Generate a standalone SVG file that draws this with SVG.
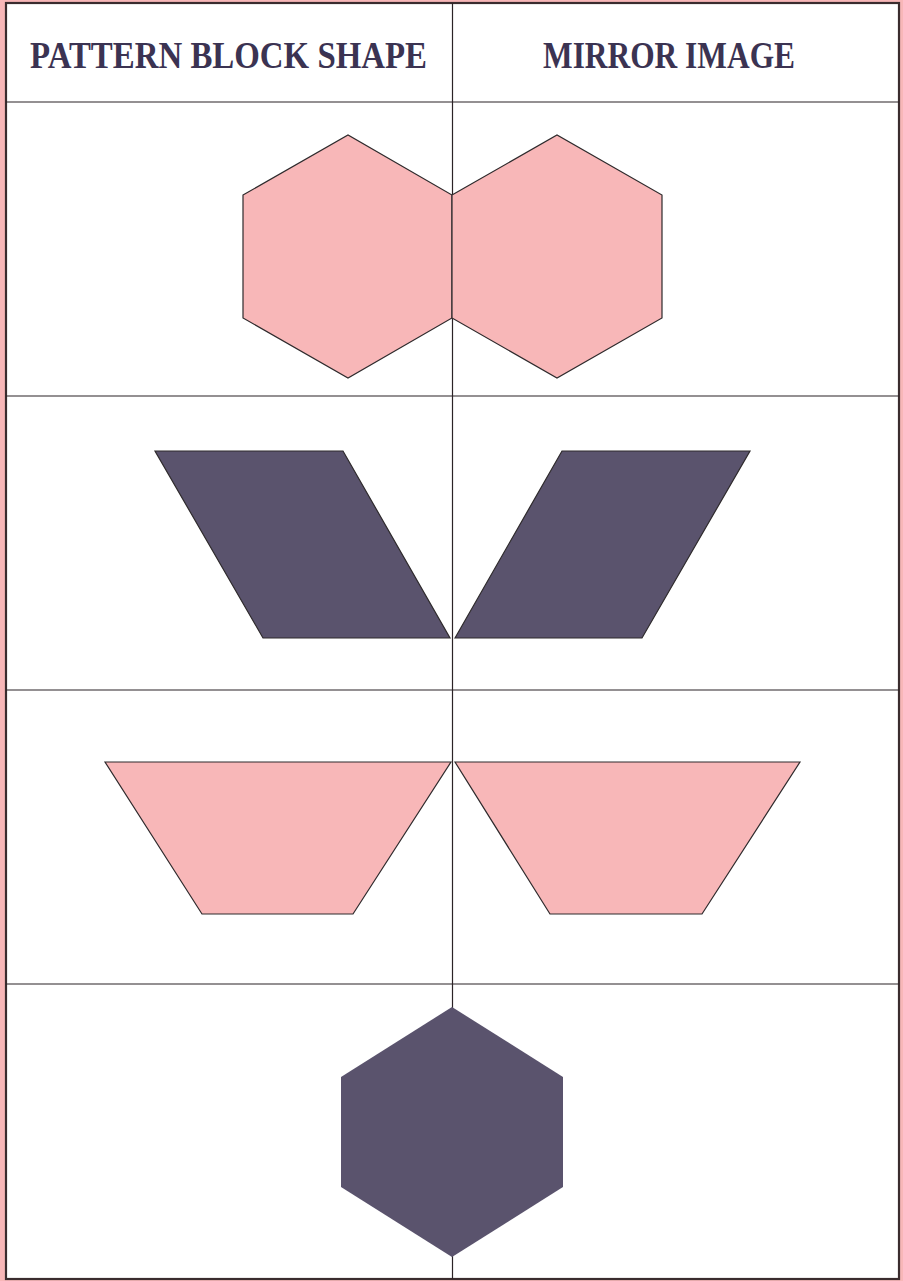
<svg xmlns="http://www.w3.org/2000/svg" width="903" height="1281" viewBox="0 0 903 1281">
<style>
.line{stroke:#2b2326;stroke-width:1.2;fill:none}
.pink{fill:#f8b7b8;stroke:#2e2a2c;stroke-width:1.2;stroke-linejoin:miter}
.dark{fill:#5a536d;stroke:#2e2a2c;stroke-width:1.2}
.hdr{font-family:"Liberation Serif","DejaVu Serif",serif;font-weight:bold;fill:#3b3352}
</style>
<rect x="0" y="0" width="903" height="1281" fill="#f8b7b8"/>
<rect x="6" y="3" width="893" height="1276" fill="#ffffff" stroke="#3a2c2e" stroke-width="2.2"/>
<g id="connectors">
<line class="line" x1="6" y1="102" x2="899" y2="102"/>
<line class="line" x1="6" y1="396" x2="899" y2="396"/>
<line class="line" x1="6" y1="690" x2="899" y2="690"/>
<line class="line" x1="6" y1="984" x2="899" y2="984"/>
<line class="line" x1="452.5" y1="3" x2="452.5" y2="1279"/>
</g>
<g id="header-left">
<text class="hdr" x="30" y="68" font-size="38" textLength="397" lengthAdjust="spacingAndGlyphs">PATTERN BLOCK SHAPE</text>
</g>
<g id="header-right">
<text class="hdr" x="543" y="68" font-size="37" textLength="252" lengthAdjust="spacingAndGlyphs">MIRROR IMAGE</text>
</g>
<g id="hexagon-left">
<polygon class="pink" points="243,195 348,135 452,195 452,318 348,378 243,318"/>
</g>
<g id="hexagon-right">
<polygon class="pink" points="452,195 557,135 662,195 662,318 557,378 452,318"/>
</g>
<g id="rhombus-left">
<polygon class="dark" points="155,451 343,451 450,638 263,638"/>
</g>
<g id="rhombus-right">
<polygon class="dark" points="455,638 562,451 750,451 642,638"/>
</g>
<g id="trapezoid-left">
<polygon class="pink" points="105,762 451,762 353,914 202,914"/>
</g>
<g id="trapezoid-right">
<polygon class="pink" points="455,762 800,762 702,914 550,914"/>
</g>
<g id="hexagon-bottom">
<polygon fill="#5a536d" points="452,1007 563,1077 563,1187 452,1257 341,1187 341,1077"/>
</g>
</svg>
